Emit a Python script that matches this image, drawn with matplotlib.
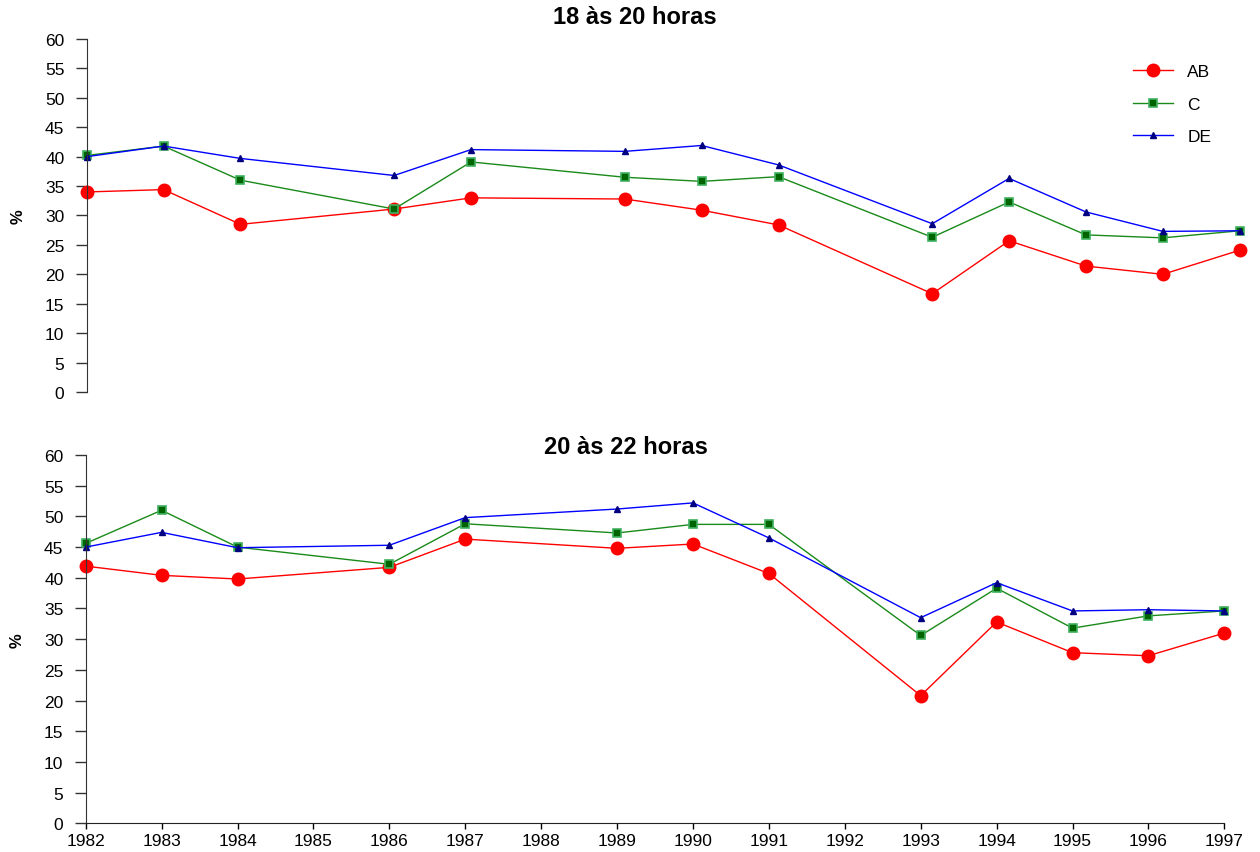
import matplotlib
matplotlib.use("Agg")
import matplotlib.pyplot as plt

years = [1982, 1983, 1984, 1986, 1987, 1989, 1990, 1991, 1993, 1994, 1995, 1996, 1997]
tick_years = list(range(1982, 1998))
yticks = list(range(0, 61, 5))

title_top = "18 às 20 horas"
title_bot = "20 às 22 horas"
labels = ["AB", "C", "DE"]

# 18 às 20 horas
top_ab = [34.0, 34.4, 28.5, 31.1, 33.0, 32.8, 30.9, 28.4, 16.7, 25.7, 21.4, 20.0, 24.1]
top_c  = [40.2, 41.8, 36.0, 31.1, 39.1, 36.5, 35.8, 36.6, 26.3, 32.3, 26.7, 26.2, 27.4]
top_de = [40.0, 41.8, 39.7, 36.8, 41.2, 40.9, 41.9, 38.6, 28.6, 36.3, 30.6, 27.3, 27.4]

# 20 às 22 horas
bot_ab = [41.9, 40.4, 39.8, 41.7, 46.3, 44.8, 45.5, 40.7, 20.8, 32.8, 27.8, 27.3, 31.0]
bot_c  = [45.6, 51.0, 45.0, 42.2, 48.8, 47.3, 48.7, 48.7, 30.6, 38.3, 31.8, 33.8, 34.6]
bot_de = [45.0, 47.4, 44.9, 45.3, 49.8, 51.2, 52.2, 46.5, 33.5, 39.2, 34.6, 34.8, 34.6]

plt.rcParams['font.family'] = ['Liberation Sans', 'DejaVu Sans']

fig = plt.figure(figsize=(12.6, 8.53), dpi=100)
ax1 = fig.add_axes([0.0688, 0.5393, 0.9839 - 0.0688, 0.9531 - 0.5393])
ax2 = fig.add_axes([0.0680, 0.0336, 0.9717 - 0.0680, 0.4654 - 0.0336])

styles = [
    dict(color='#ff0000', marker='o', markersize=9, markerfacecolor='#ff0000',
         markeredgecolor='#ff0000', lw=1.0),
    dict(color='#1a8a1a', marker='s', markersize=6, markerfacecolor='#006400',
         markeredgecolor='#40b060', markeredgewidth=1.2, lw=1.0),
    dict(color='#0000ff', marker='^', markersize=5, markerfacecolor='#000080',
         markeredgecolor='#000080', lw=1.0),
]

for ax, series in ((ax1, (top_ab, top_c, top_de)), (ax2, (bot_ab, bot_c, bot_de))):
    for vals, st, lab in zip(series, styles, labels):
        ax.plot(years, vals, label=lab, clip_on=False, **st)
    ax.set_xlim(1982, 1997)
    ax.set_ylim(0, 60)
    ax.set_yticks(yticks)
    ax.tick_params(axis='y', direction='out', length=8, width=1, pad=8,
                   labelsize=12.5, color='#333333')
    ax.spines['top'].set_visible(False)
    ax.spines['right'].set_visible(False)
    ax.spines['left'].set_color('#333333')
    ax.set_ylabel('%', fontsize=12, fontweight='bold', labelpad=14)

ax1.spines['bottom'].set_visible(False)
ax1.set_xticks([])
ax2.set_xticks(tick_years)
ax2.set_xticklabels([str(y) for y in tick_years])
ax2.tick_params(axis='x', direction='out', length=4, width=1, pad=3, labelsize=12.5)
ax2.spines['bottom'].set_color('#222222')

fig.text(0.504, 0.980, title_top, ha='center', va='center', fontsize=17, fontweight='bold')
fig.text(0.497, 0.475, title_bot, ha='center', va='center', fontsize=17, fontweight='bold')

leg = ax1.legend(loc='upper left', bbox_to_anchor=(0.894, 0.932),
                 bbox_transform=fig.transFigure, frameon=False, fontsize=12.5,
                 handlelength=2.3, labelspacing=1.0, handletextpad=0.8,
                 borderaxespad=0)

fig.savefig('out.png', dpi=100)
